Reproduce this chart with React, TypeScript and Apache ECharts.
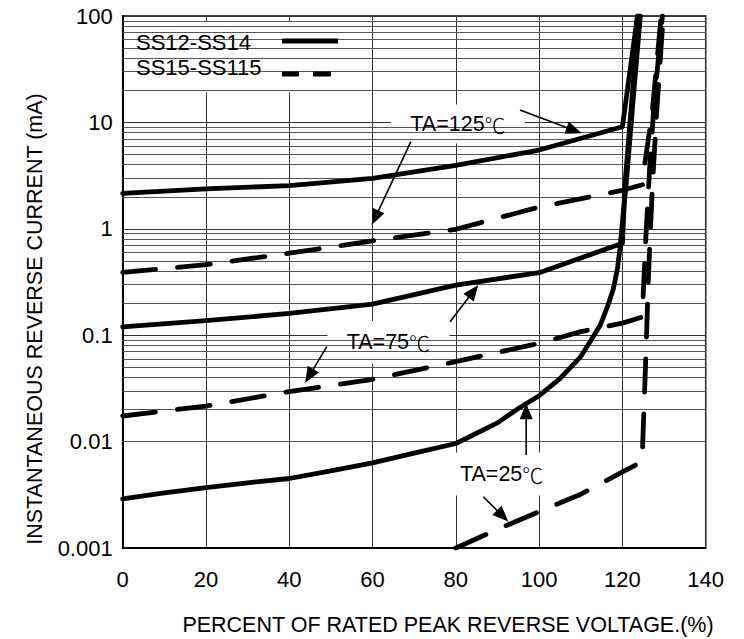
import { useEffect, useRef } from "react";
import * as echarts from "echarts";

// ---- data ----
const xTicks = [0, 20, 40, 60, 80, 100, 120, 140];
const yTickLabels = ["0.001", "0.01", "0.1", "1", "10", "100"];
const legendNames = ["SS12-SS14", "SS15-SS115"];

const solid125 = [[0, 2.15], [20, 2.37], [40, 2.55], [60, 2.98], [80, 3.95], [100, 5.5], [120, 9.1], [123.6, 100]];
const solid75 = [[0, 0.12], [20, 0.137], [40, 0.16], [60, 0.196], [80, 0.296], [100, 0.387], [120, 0.73], [120.7, 2.9], [123.9, 100]];
const solid25 = [[0, 0.0029], [10, 0.0033], [20, 0.0037], [30, 0.0041], [40, 0.0045], [50, 0.0053], [60, 0.0063], [70, 0.0078], [80, 0.0096], [90, 0.015], [95, 0.0205], [100, 0.027], [105, 0.039], [110, 0.063], [112.5, 0.09], [114.7, 0.125], [116.5, 0.19], [117.8, 0.27], [118.8, 0.42], [119.4, 0.65], [120.2, 1.4], [121, 2.9], [122.5, 15], [124.3, 100]];

const dashed125 = [[0, 0.39], [20, 0.46], [40, 0.59], [60, 0.77], [80, 0.99], [100, 1.6], [120, 2.3], [124.9, 2.6], [125, 3.3], [126, 6], [127.2, 13], [129.3, 100]];
const dashed75 = [[0, 0.0174], [20, 0.0216], [40, 0.0295], [60, 0.0385], [80, 0.0564], [100, 0.084], [110, 0.108], [120, 0.13], [124.8, 0.148], [124.9, 0.2], [125.6, 0.8], [126.5, 3.5], [127.6, 15], [129.6, 100]];
const dashed25 = [[80, 0.001], [90, 0.0015], [100, 0.0022], [110, 0.0032], [118, 0.0047], [124.7, 0.0065], [124.8, 0.0078], [125.6, 0.06], [126.3, 0.4], [127.2, 2.5], [128.2, 12], [129.8, 100]];

const minorMultipliers = [2, 3, 4, 5, 6, 7, 8, 9];
const decades = [0.001, 0.01, 0.1, 1, 10];

// annotation texts and arrows (anchors in data coordinates)
const tempLabels = [
  { text: "TA=125", at: [80.5, 9.66], w: 134, h: 39 },
  { text: "TA=75", at: [63.8, 0.0854], w: 122, h: 43 },
  { text: "TA=25", at: [91.0, 0.00496], w: 110, h: 43 },
];
const arrows = [
  { from: [95.4, 13.08], to: [110.2, 7.9] },
  { from: [69.2, 6.59], to: [59.8, 1.086] },
  { from: [78.6, 0.134], to: [85.4, 0.2965] },
  { from: [49.0, 0.078], to: [43.8, 0.0356] },
  { from: [96.9, 0.00748], to: [96.9, 0.0229] },
  { from: [86.6, 0.00303], to: [92.6, 0.00177] },
];

const FONT = '"Liberation Sans", Arial, "Noto Sans CJK SC", sans-serif';
const CJK = '"Noto Sans CJK SC", "Noto Sans CJK JP", sans-serif';
const DASH = [33, 22];

export default function App() {
  const ref = useRef<HTMLDivElement>(null);
  useEffect(() => {
    if (!ref.current) return;
    const chart = echarts.init(ref.current, undefined, { renderer: "svg" });
    const minorLines: any[] = [];
    decades.forEach((d) => minorMultipliers.forEach((m) => minorLines.push({ yAxis: m * d })));

    const lineSeries = (data: number[][], dashed: boolean) => ({
      type: "line",
      data,
      showSymbol: false,
      symbol: "none",
      z: 5,
      silent: true,
      lineStyle: { color: "#000", width: 4.8, type: dashed ? DASH : "solid", cap: "round", join: "round" },
    });

    chart.setOption({
      animation: false,
      backgroundColor: "#fff",
      grid: { left: 122.7, top: 16, width: 583, height: 532, show: true, borderColor: "#000", borderWidth: 1.5, backgroundColor: "transparent" },
      xAxis: {
        type: "value",
        min: 0,
        max: 140,
        interval: 20,
        axisLine: { show: true, lineStyle: { color: "#000", width: 2 } },
        axisTick: { show: false },
        axisLabel: { color: "#000", fontSize: 22, fontFamily: FONT, margin: 20, formatter: (v: number) => String(xTicks[Math.round(v / 20)]) },
        splitLine: { show: true, lineStyle: { color: "#333", width: 1 } },
      },
      yAxis: {
        type: "log",
        logBase: 10,
        min: 0.001,
        max: 100,
        axisLine: { show: true, lineStyle: { color: "#000", width: 2 } },
        axisTick: { show: false },
        axisLabel: { color: "#000", fontSize: 22, fontFamily: FONT, margin: 10, formatter: (v: number) => yTickLabels[Math.round(Math.log10(v)) + 3] },
        splitLine: { show: true, lineStyle: { color: "#333", width: 1 } },
      },
      series: [
        {
          type: "line",
          data: [],
          z: 0,
          silent: true,
          markLine: {
            silent: true,
            symbol: ["none", "none"],
            label: { show: false },
            lineStyle: { color: "#555", width: 1, type: "solid" },
            data: minorLines,
          },
        },
        lineSeries(solid125, false),
        lineSeries(solid75, false),
        lineSeries(solid25, false),
        lineSeries(dashed125, true),
        lineSeries(dashed75, true),
        lineSeries(dashed25, true),
      ],
    });

    const px = (p: number[]) => chart.convertToPixel({ xAxisIndex: 0, yAxisIndex: 0 }, p) as number[];
    const graphics: any[] = [];

    // legend box
    graphics.push({ type: "rect", z: 2, shape: { x: 128, y: 21, width: 214, height: 71 }, style: { fill: "#fff" } });
    graphics.push({ type: "text", z: 6, x: 136, y: 42, style: { text: legendNames[0], font: `22px ${FONT}`, fill: "#000", textAlign: "left", textVerticalAlign: "middle", verticalAlign: "middle" } });
    graphics.push({ type: "text", z: 6, x: 136, y: 67, style: { text: legendNames[1], font: `22px ${FONT}`, fill: "#000", textAlign: "left", textVerticalAlign: "middle", verticalAlign: "middle" } });
    graphics.push({ type: "line", z: 6, shape: { x1: 282, y1: 41, x2: 338, y2: 41 }, style: { stroke: "#000", lineWidth: 5 } });
    graphics.push({ type: "line", z: 6, shape: { x1: 282, y1: 74, x2: 299, y2: 74 }, style: { stroke: "#000", lineWidth: 5 } });
    graphics.push({ type: "line", z: 6, shape: { x1: 313, y1: 74, x2: 331, y2: 74 }, style: { stroke: "#000", lineWidth: 5 } });

    // temperature labels
    tempLabels.forEach((l) => {
      const [cx, cy] = px(l.at);
      graphics.push({ type: "rect", z: 2, shape: { x: cx - l.w / 2, y: cy - l.h / 2, width: l.w, height: l.h }, style: { fill: "#fff" } });
      graphics.push({
        type: "text",
        z: 6,
        x: cx,
        y: cy,
        style: {
          text: `{a|${l.text}}{b|℃}`,
          fill: "#000",
          textAlign: "center",
          textVerticalAlign: "middle",
          verticalAlign: "middle",
          rich: {
            a: { font: `21.5px ${FONT}`, fill: "#000" },
            b: { font: `300 21px ${CJK}`, fill: "#000" },
          },
        },
      });
    });

    // arrows
    arrows.forEach((a) => {
      const [x1, y1] = px(a.from);
      const [x2, y2] = px(a.to);
      const dx = x2 - x1, dy = y2 - y1;
      const len = Math.hypot(dx, dy) || 1;
      const ux = dx / len, uy = dy / len;
      const nx = -uy, ny = ux;
      const L = 16, W = 6.5;
      const bx = x2 - L * ux, by = y2 - L * uy;
      graphics.push({ type: "line", z: 6, shape: { x1, y1, x2: bx + 2 * ux, y2: by + 2 * uy }, style: { stroke: "#000", lineWidth: 1.6 } });
      graphics.push({ type: "polygon", z: 6, shape: { points: [[x2, y2], [bx + W * nx, by + W * ny], [bx - W * nx, by - W * ny]] }, style: { fill: "#000" } });
    });

    // axis titles
    graphics.push({ type: "text", z: 6, x: 448, y: 625, style: { text: "PERCENT OF RATED PEAK REVERSE VOLTAGE.(%)", font: `21.5px ${FONT}`, fill: "#000", textAlign: "center", textVerticalAlign: "middle", verticalAlign: "middle" } });
    graphics.push({ type: "text", z: 6, x: 35, y: 319, rotation: Math.PI / 2, style: { text: "INSTANTANEOUS REVERSE CURRENT (mA)", font: `21.5px ${FONT}`, fill: "#000", textAlign: "center", textVerticalAlign: "middle", verticalAlign: "middle" } });

    chart.setOption({ graphic: graphics });
    return () => chart.dispose();
  }, []);
  return <div ref={ref} style={{ position: "fixed", left: 0, top: 0, width: 744, height: 639, background: "#fff" }} />;
}
